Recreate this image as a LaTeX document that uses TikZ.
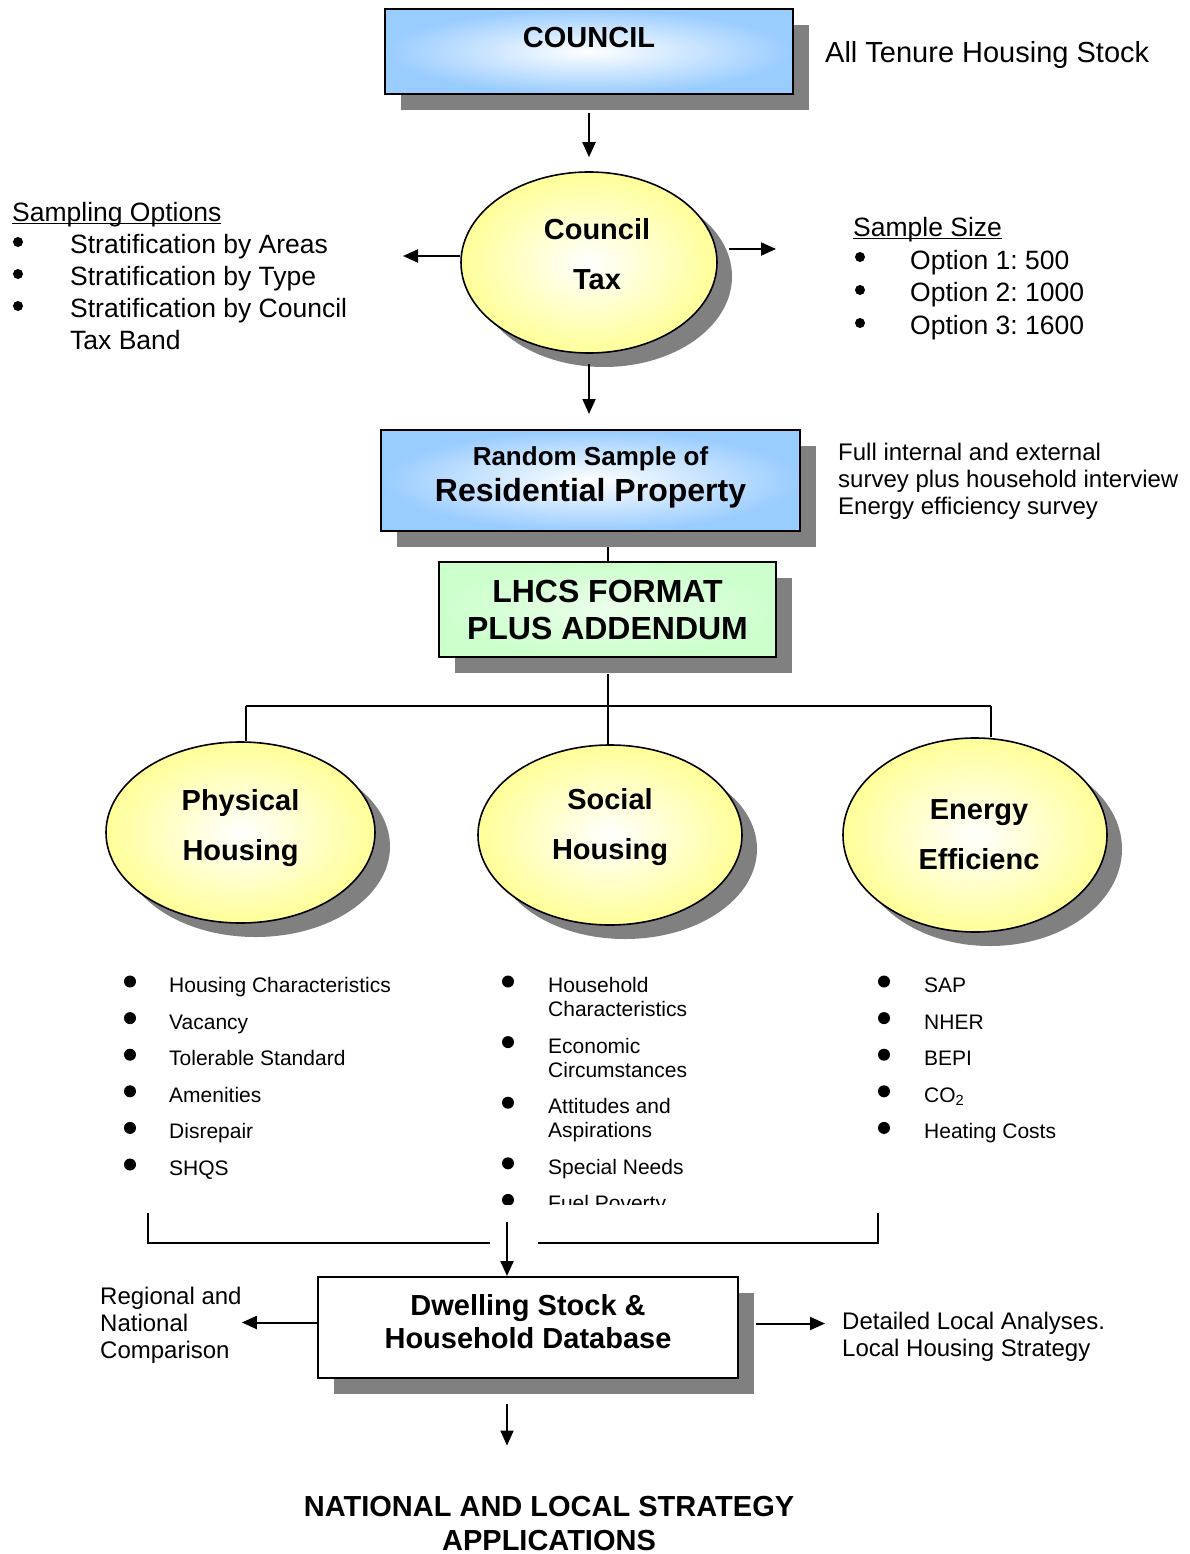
\documentclass[tikz,border=0pt]{standalone}
\usepackage{fontspec}
\setmainfont{Liberation Sans}
\usetikzlibrary{arrows.meta,shapes.geometric,shadows}
\definecolor{boxblue}{HTML}{99CCFF}
\definecolor{boxgreen}{HTML}{CCFFCC}
\definecolor{ovalyellow}{HTML}{FFFF99}
\definecolor{shadowgray}{HTML}{808080}
\frenchspacing
\newsavebox{\hdrbox}
\newcommand{\hdr}[1]{\sbox{\hdrbox}{#1}\rlap{\rule[-3pt]{\wd\hdrbox}{1.2pt}}\usebox{\hdrbox}}

\begin{document}
\begin{tikzpicture}[x=1pt,y=-1pt,
  font=\fontsize{29}{34}\selectfont,
  hbox/.style={draw,line width=2pt,inner sep=0pt,align=center,
    font=\fontsize{29}{34}\selectfont\bfseries,
    drop shadow={shadow xshift=16pt,shadow yshift=-16pt,fill=shadowgray,opacity=1}},
  oval/.style={ellipse,draw,line width=1.6pt,inner sep=0pt,inner color=white,outer color=ovalyellow,
    drop shadow={shadow xshift=15pt,shadow yshift=-14pt,fill=shadowgray,opacity=1}},
  ovtxt/.style={align=center,inner sep=0pt,font=\fontsize{29}{50}\selectfont\bfseries},
  side/.style={inner sep=0pt,anchor=base west,font=\fontsize{24}{27}\selectfont},
  lst/.style={inner sep=0pt,anchor=base west,font=\fontsize{21}{24}\selectfont},
  ln/.style={line width=2pt},
  arr/.style={ln,-{Triangle[length=15pt,width=13pt]}}]
\fill[white] (0,0) rectangle (1190,1554);
\useasboundingbox (0,0) rectangle (1190,1554);

% top of the chart
\node[hbox,inner color=white,outer color=boxblue,minimum width=408pt,minimum height=85pt,
  label={[ovtxt,yshift=13.5pt]center:COUNCIL}] (council) at (589,51.5) {};
\node[side,font=\fontsize{29}{34}\selectfont] (tenure) at (825,62.4) {All Tenure Housing Stock};

\node[oval,minimum width=256pt,minimum height=181pt,
  label={[ovtxt,xshift=8pt,yshift=8pt]center:{Council\\Tax}}] (ctax) at (589,262.5) {};

\node[inner sep=0pt,anchor=base west,font=\fontsize{26.5}{32}\selectfont] (sampling) at (12,221.5)
  {\begin{tabular}[t]{@{}p{58pt}@{}l@{}}
   \multicolumn{2}{@{}l@{}}{\hdr{Sampling Options}}\\
   & Stratification by Areas\\
   & Stratification by Type\\
   & Stratification by Council\\
   & Tax Band
   \end{tabular}};
\foreach \y in {242,274,306} \fill (18,\y) circle (5pt);
\node[inner sep=0pt,anchor=base west,font=\fontsize{26.5}{32.7}\selectfont] (size) at (853,236.5)
  {\begin{tabular}[t]{@{}p{57pt}@{}l@{}}
   \multicolumn{2}{@{}l@{}}{\hdr{Sample Size}}\\
   & Option 1: 500\\
   & Option 2: 1000\\
   & Option 3: 1600
   \end{tabular}};
\foreach \y in {257,290,323} \fill (860,\y) circle (5pt);
\coordinate (sampl) at (403,256);
\coordinate (sizel) at (776,249);

\node[hbox,inner color=white,outer color=boxblue,minimum width=419pt,minimum height=101pt,
  label={[ovtxt,font=\fontsize{32}{36}\selectfont\bfseries,yshift=3pt]center:{{\fontsize{26}{30}\selectfont Random Sample of}\\Residential Property}}]
  (rsample) at (590.5,480.5) {};
\node[side] (survey) at (838,460.6)
  {\begin{tabular}[t]{@{}l@{}}Full internal and external\\survey plus household interview\\Energy efficiency survey\end{tabular}};

\node[hbox,inner color=boxgreen!40,outer color=boxgreen,minimum width=337pt,minimum height=95pt,
  font=\fontsize{32}{37}\selectfont\bfseries] (lhcs) at (607.5,609.5) {LHCS FORMAT\\PLUS ADDENDUM};

\draw[arr,shorten <=18pt,shorten >=14pt] (council.south) -- (council.south |- ctax.north);
\draw[arr] (ctax.west |- sampl) -- (sampl);
\draw[arr,shorten <=11pt] (ctax.east |- sizel) -- (sizel);
\draw[arr,shorten <=10pt,shorten >=15pt] (ctax.south) -- (ctax.south |- rsample.north);
\draw[ln,shorten <=15pt] (rsample.south -| lhcs.north) -- (lhcs.north);

% three survey strands
\node[oval,minimum width=269pt,minimum height=181pt,
  label={[ovtxt,yshift=4.5pt]center:{Physical\\Housing}}] (phys) at (240.5,832.5) {};
\node[oval,minimum width=264pt,minimum height=180pt,
  label={[ovtxt,yshift=7.5pt]center:{Social\\Housing}}] (social) at (610,835) {};
\node[oval,minimum width=264pt,minimum height=194pt,
  label={[ovtxt,xshift=4pt]center:{Energy\\Efficienc}}] (energy) at (975,835) {};

\coordinate (bus) at (607.5,706);
\coordinate (busl) at (246,706);
\coordinate (busr) at (991,706);
\draw[ln,shorten <=16pt] (lhcs.south) -- (bus);
\draw[ln] (busl) -- (busr);
\draw[ln] (busl) -- (busl |- phys.north);
\draw[ln] (bus) -- (bus |- social.north);
\draw[ln] (busr) -- (busr |- energy.north);

\node[lst] (physlist) at (123,992.5)
  {\begin{tabular}[t]{@{}p{46pt}@{}l@{}}
   & Housing Characteristics\\[12.6pt]
   & Vacancy\\[12.6pt]
   & Tolerable Standard\\[12.6pt]
   & Amenities\\[12.6pt]
   & Disrepair\\[12.6pt]
   & SHQS
   \end{tabular}};
\foreach \y in {981.5,1018.1,1054.7,1091.3,1127.9,1164.5} \fill (130,\y) circle (6pt);
\begin{scope}
  \clip (470,960) rectangle (760,1204);
  \node[lst] (soclist) at (501,992.5)
    {\begin{tabular}[t]{@{}p{47pt}@{}l@{}}
     & Household\\
     & Characteristics\\[12.6pt]
     & Economic\\
     & Circumstances\\[12.6pt]
     & Attitudes and\\
     & Aspirations\\[12.6pt]
     & Special Needs\\[12.6pt]
     & Fuel Poverty
     \end{tabular}};
  \foreach \y in {981.5,1042.1,1102.7,1163.3,1199.9} \fill (508,\y) circle (6pt);
\end{scope}
\node[lst] (enlist) at (877,992.5)
  {\begin{tabular}[t]{@{}p{47pt}@{}l@{}}
   & SAP\\[12.6pt]
   & NHER\\[12.6pt]
   & BEPI\\[12.6pt]
   & CO\textsubscript{2}\\[12.6pt]
   & Heating Costs
   \end{tabular}};
\foreach \y in {981.5,1018.1,1054.7,1091.3,1127.9} \fill (884,\y) circle (6pt);

% database and outputs
\coordinate (bl) at (148,1213);
\coordinate (br) at (878,1213);
\coordinate (gapl) at (490,1243);
\coordinate (gapr) at (538,1243);
\coordinate (jn) at (507,1222);
\node[hbox,fill=white,minimum width=420pt,minimum height=101pt,
  label={[ovtxt,font=\fontsize{29}{33}\selectfont\bfseries,yshift=6pt]center:{Dwelling Stock \&\\Household Database}}]
  (dwell) at (528,1327.5) {};
\draw[ln] (bl) |- (gapl);
\draw[ln] (gapr) -| (br);
\draw[arr] (jn) -- (jn |- dwell.north);

\node[side] (regional) at (100,1304.6)
  {\begin{tabular}[t]{@{}l@{}}Regional and\\National\\Comparison\end{tabular}};
\node[side] (detail) at (842,1329.6)
  {\begin{tabular}[t]{@{}l@{}}Detailed Local Analyses.\\Local Housing Strategy\end{tabular}};
\draw[arr] ([yshift=5pt]dwell.west) -- ([yshift=5pt]dwell.west -| regional.east);
\draw[arr,shorten <=17pt,shorten >=17pt] ([yshift=4pt]dwell.east) -- ([yshift=4pt]dwell.east -| detail.west);

\node[ovtxt,font=\fontsize{29}{34}\selectfont\bfseries] (natl) at (549,1523)
  {NATIONAL AND LOCAL STRATEGY\\APPLICATIONS};
\draw[arr,shorten <=25pt,shorten >=50pt] (jn |- dwell.south) -- (jn |- natl.north);
\end{tikzpicture}
\end{document}
